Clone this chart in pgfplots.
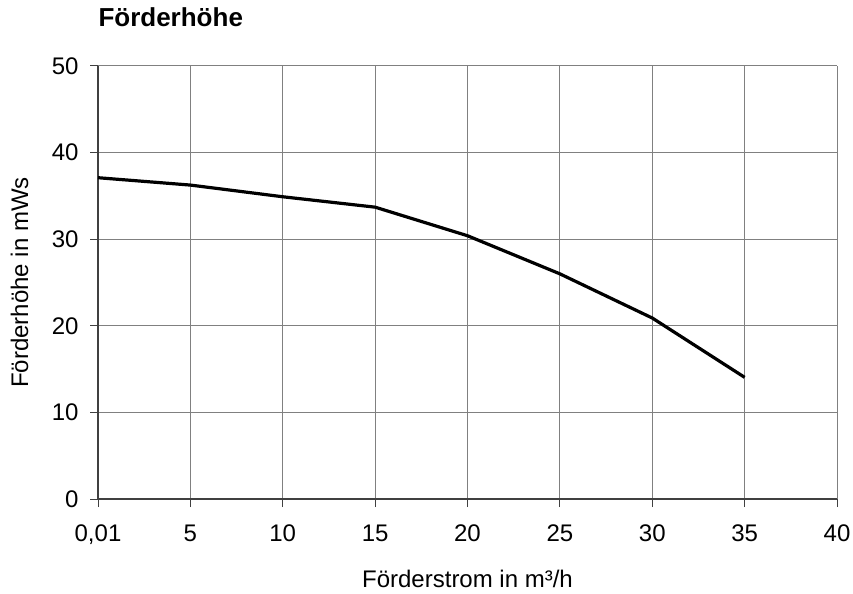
\documentclass[border=0pt]{standalone}
\usepackage{pgfplots}
\pgfplotsset{compat=1.18}
\usepackage{fontspec}
\setmainfont{Liberation Sans}

\definecolor{gridgray}{HTML}{808080}
\definecolor{axisgray}{HTML}{404040}

\begin{document}
\begin{tikzpicture}[font=\fontsize{24bp}{28bp}\selectfont]
  \begin{axis}[
      name=ax,
      scale only axis,
      width=739bp, height=433bp,
      xmin=0, xmax=8, ymin=0, ymax=50,
      axis lines*=left,
      axis line style={axisgray, line width=1.2bp},
      grid=major,
      major grid style={gridgray, line width=1bp},
      xtick pos=bottom, ytick pos=left,
      tick align=outside,
      major tick length=8bp,
      tick style={axisgray, line width=1bp},
      xtick={0,...,8},
      xticklabels={{0,01},5,10,15,20,25,30,35,40},
      ytick={0,10,20,30,40,50},
      /pgf/number format/assume math mode=true,
      xticklabel style={yshift=-14bp},
      yticklabel style={xshift=-8bp},
      xlabel={Förderstrom in m³/h},
      ylabel={Förderhöhe in mWs},
      xlabel style={at={(axis description cs:0.5,-0.185)}, anchor=center},
      ylabel style={at={(axis description cs:-0.106,0.5)}, anchor=center},
      clip=false,
    ]
    \addplot[black, line width=3.2bp, line join=round] coordinates {
      (0,37.1) (1,36.25) (2,34.9) (3,33.7) (4,30.4) (5,26.0) (6,20.9) (7,14.05)
    };
    \node[anchor=base west, font=\fontsize{26bp}{30bp}\selectfont\bfseries]
      at (rel axis cs:0,1) [yshift=39bp, xshift=-3bp] {Förderhöhe};
  \end{axis}
  \pgfresetboundingbox
  \path[use as bounding box] ([xshift=-98bp,yshift=-94bp]ax.south west)
    rectangle ([xshift=16bp,yshift=66bp]ax.north east);
\end{tikzpicture}
\end{document}
